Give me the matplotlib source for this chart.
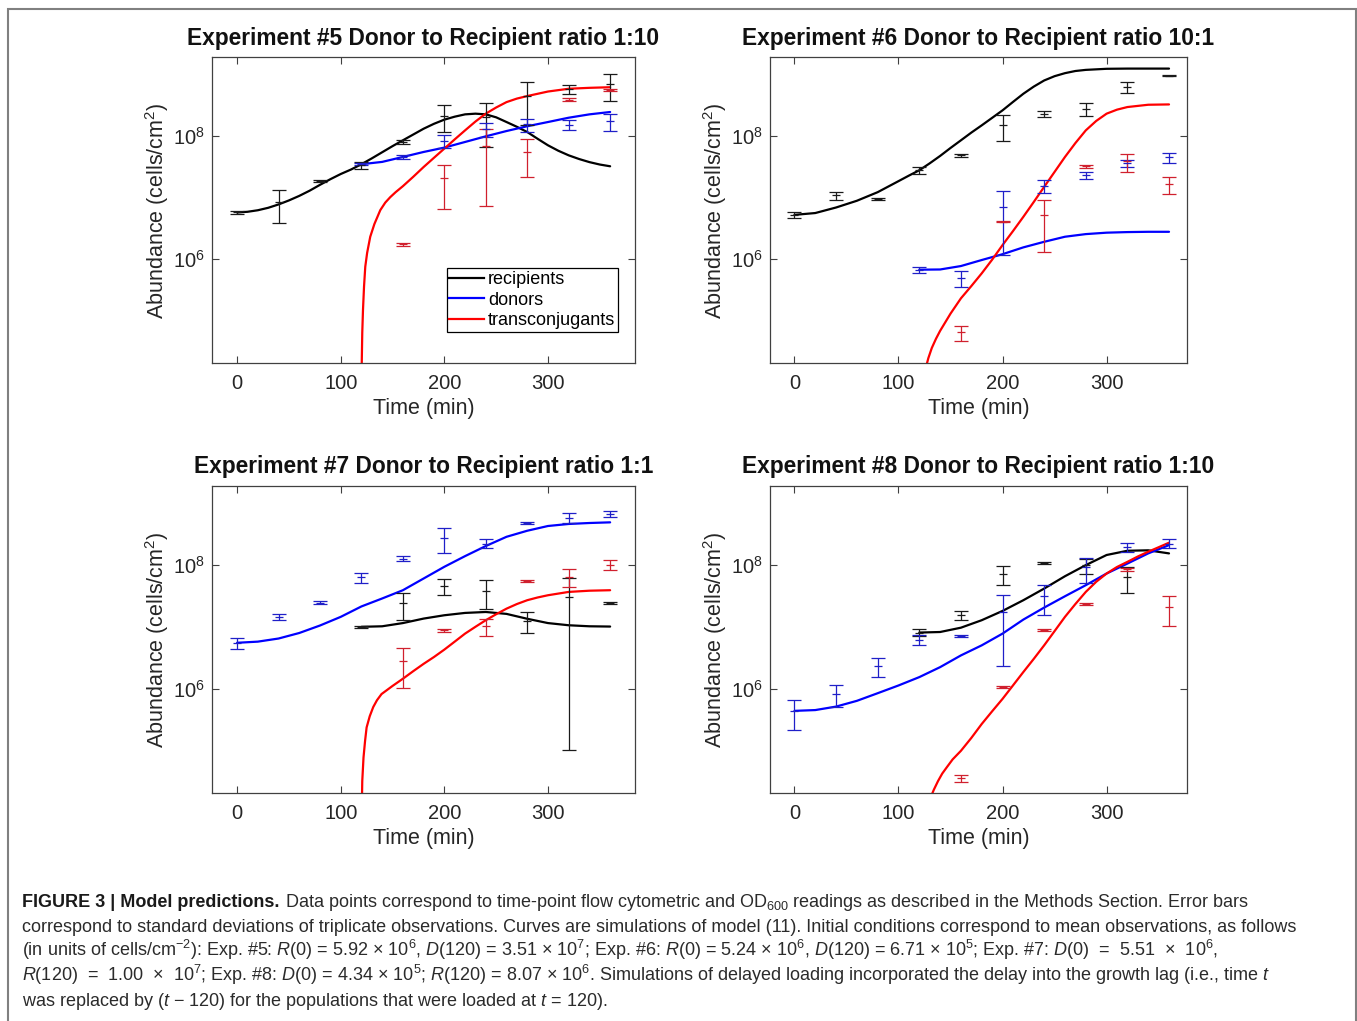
import numpy as np
import matplotlib
matplotlib.use("Agg")
import matplotlib.pyplot as plt
from matplotlib import font_manager
from matplotlib.patches import Rectangle
from matplotlib.lines import Line2D
from matplotlib.ticker import FixedLocator, FuncFormatter, NullLocator

# ---------------- data ----------------
t_all = [0, 40, 80, 120, 160, 200, 240, 280, 320, 360]
t_120 = [120, 160, 200, 240, 280, 320, 360]
t_160 = [160, 200, 240, 280, 320, 360]

# Experiment #5 (ratio 1:10)
e5_rec_mean = [5.74e6, 8.51e6, 1.88e7, 3.39e7, 8.09e7, 2.18e8, 2.10e8, 4.55e8, 5.91e8, 7.10e8]
e5_rec_sd = [2.9e5, 4.7e6, 7.0e5, 4.1e6, 5.2e6, 1.0e8, 1.42e8, 3.04e8, 1.0e8, 3.4e8]
e5_don_mean = [3.51e7, 4.61e7, 8.40e7, 1.32e8, 1.56e8, 1.55e8, 1.77e8]
e5_don_sd = [1.5e6, 3.0e6, 2.0e7, 3.5e7, 3.8e7, 2.7e7, 5.7e7]
e5_tra_mean = [1.75e6, 2.06e7, 6.95e7, 5.65e7, 3.98e8, 5.74e8]
e5_tra_sd = [1.0e5, 1.41e7, 6.23e7, 3.47e7, 2.0e7, 2.5e7]

e5_rec_ct = [0, 10, 20, 30, 40, 50, 60, 70, 80, 90, 100, 110, 120, 130, 140, 150, 160, 170, 180, 190,
             200, 210, 220, 230, 240, 250, 260, 270, 280, 290, 300, 310, 320, 330, 340, 350, 360]
e5_rec_cv = [5.75e6, 5.89e6, 6.24e6, 6.84e6, 7.76e6, 9.02e6, 1.07e7, 1.30e7, 1.62e7, 2.0e7, 2.43e7,
             2.88e7, 3.51e7, 4.37e7, 5.50e7, 6.92e7, 8.61e7, 1.07e8, 1.33e8, 1.60e8, 1.87e8, 2.09e8,
             2.28e8, 2.34e8, 2.28e8, 2.04e8, 1.71e8, 1.43e8, 1.175e8, 9.12e7, 7.14e7, 5.82e7, 4.90e7,
             4.27e7, 3.80e7, 3.47e7, 3.25e7]
e5_don_ct = [120, 140, 160, 180, 200, 220, 240, 260, 280, 300, 320, 340, 360]
e5_don_cv = [3.51e7, 3.83e7, 4.61e7, 5.56e7, 6.55e7, 8.09e7, 1.0e8, 1.22e8, 1.46e8, 1.71e8, 2.01e8, 2.28e8, 2.49e8]
e5_tra_ct = [120.0, 120.3, 120.8, 121.5, 122.5, 123.7, 125.5, 128.5, 132.5, 138.2, 143, 147.8, 153, 160,
             170, 180, 190, 200, 210, 220, 230, 240, 250, 260, 270, 280, 300, 320, 340, 360]
e5_tra_cv = [1e3, 2.0e4, 6.31e4, 1.48e5, 3.55e5, 7.5e5, 1.26e6, 2.31e6, 3.72e6, 6.27e6, 8.32e6, 1.02e7,
             1.23e7, 1.54e7, 2.19e7, 3.16e7, 4.47e7, 6.31e7, 8.91e7, 1.25e8, 1.74e8, 2.34e8, 2.95e8,
             3.61e8, 4.12e8, 4.53e8, 5.37e8, 5.96e8, 6.17e8, 6.31e8]

# Experiment #6 (ratio 10:1)
e6_rec_mean = [5.24e6, 1.09e7, 9.46e6, 2.79e7, 4.91e7, 1.545e8, 2.32e8, 2.82e8, 6.39e8, 9.77e8]
e6_rec_sd = [6.0e5, 1.6e6, 3.0e5, 3.8e6, 2.5e6, 7.05e7, 2.6e7, 7.0e7, 1.25e8, 3.0e7]
e6_don_mean = [6.71e5, 4.97e5, 7.03e6, 1.57e7, 2.34e7, 3.65e7, 4.52e7]
e6_don_sd = [7.0e4, 1.5e5, 5.87e6, 3.6e6, 2.9e6, 5.2e6, 8.4e6]
e6_tra_mean = [6.4e4, 4.05e6, 5.3e6, 3.25e7, 3.93e7, 1.67e7]
e6_tra_sd = [1.85e4, 1.0e5, 4.0e6, 2.0e6, 1.3e7, 5.3e6]

e6_rec_ct = [0, 20, 40, 60, 80, 100, 110, 120, 130, 140, 150, 160, 170, 180, 190, 200, 210, 220, 230,
             240, 250, 260, 270, 280, 300, 320, 360]
e6_rec_cv = [5.25e6, 5.62e6, 6.92e6, 8.91e6, 1.23e7, 1.86e7, 2.29e7, 2.80e7, 3.63e7, 4.79e7, 6.46e7,
             8.61e7, 1.15e8, 1.51e8, 2.0e8, 2.65e8, 3.63e8, 4.94e8, 6.46e8, 8.13e8, 9.55e8, 1.07e9,
             1.16e9, 1.21e9, 1.26e9, 1.27e9, 1.27e9]
e6_don_ct = [120, 140, 160, 180, 200, 220, 240, 260, 280, 300, 320, 340, 360]
e6_don_cv = [6.71e5, 6.76e5, 7.69e5, 9.64e5, 1.20e6, 1.55e6, 1.91e6, 2.31e6, 2.55e6, 2.69e6, 2.75e6, 2.78e6, 2.78e6]
e6_tra_ct = [125, 128.7, 132, 136, 140, 150, 160, 170, 180, 190, 200, 210, 220, 230, 240, 250, 260,
             270, 280, 290, 300, 310, 320, 340, 360]
e6_tra_cv = [1.41e4, 2.43e4, 3.55e4, 5.01e4, 6.76e4, 1.29e5, 2.29e5, 3.63e5, 5.85e5, 9.77e5, 1.69e6,
             2.85e6, 4.88e6, 8.51e6, 1.50e7, 2.63e7, 4.61e7, 7.76e7, 1.25e8, 1.78e8, 2.34e8, 2.72e8,
             3.0e8, 3.27e8, 3.31e8]

# Experiment #7 (ratio 1:1)
e7_don_mean = [5.51e6, 1.445e7, 2.47e7, 6.36e7, 1.28e8, 2.76e8, 2.24e8, 4.76e8, 5.84e8, 6.80e8]
e7_don_sd = [1.2e6, 1.5e6, 1.5e6, 1.14e7, 1.2e7, 1.18e8, 3.7e7, 2.0e7, 1.08e8, 8.4e7]
e7_rec_mean = [1.00e7, 2.43e7, 4.66e7, 3.84e7, 1.26e7, 3.05e7, 2.47e7]
e7_rec_sd = [3.0e5, 1.12e7, 1.41e7, 1.87e7, 4.8e6, 3.04e7, 1.0e6]
e7_tra_mean = [2.8e6, 8.77e6, 1.03e7, 5.5e7, 6.53e7, 1.02e8]
e7_tra_sd = [1.78e6, 5.0e5, 3.3e6, 1.5e6, 2.08e7, 1.9e7]

e7_don_ct = [0, 20, 40, 60, 80, 100, 120, 140, 160, 180, 200, 220, 240, 260, 280, 300, 320, 340, 360]
e7_don_cv = [5.51e6, 5.75e6, 6.46e6, 7.94e6, 1.05e7, 1.45e7, 2.14e7, 2.88e7, 3.92e7, 6.07e7,
             9.40e7, 1.40e8, 2.04e8, 2.88e8, 3.61e8, 4.31e8, 4.65e8, 4.82e8, 4.94e8]
e7_rec_ct = [120, 140, 160, 180, 200, 220, 240, 260, 280, 300, 320, 340, 360]
e7_rec_cv = [1.0e7, 1.02e7, 1.15e7, 1.36e7, 1.54e7, 1.68e7, 1.74e7, 1.62e7, 1.35e7, 1.15e7, 1.06e7, 1.02e7, 1.01e7]
e7_tra_ct = [120.0, 120.3, 120.8, 122, 123.5, 125, 128, 131.4, 135, 139.4, 150, 160, 170, 180, 190,
             200, 210, 220, 230, 240, 250, 260, 270, 280, 290, 300, 320, 340, 360]
e7_tra_cv = [1e3, 1.0e4, 3.16e4, 7.59e4, 1.41e5, 2.34e5, 3.55e5, 5.01e5, 6.46e5, 8.13e5, 1.10e6,
             1.44e6, 1.91e6, 2.51e6, 3.24e6, 4.27e6, 5.75e6, 7.76e6, 1.0e7, 1.28e7, 1.60e7, 1.97e7,
             2.34e7, 2.70e7, 2.99e7, 3.25e7, 3.68e7, 3.85e7, 3.92e7]

# Experiment #8 (ratio 1:10)
e8_don_mean = [4.34e5, 8.15e5, 2.34e6, 6.14e6, 7.02e6, 1.74e7, 3.15e7, 9.16e7, 1.96e8, 2.24e8]
e8_don_sd = [2.2e5, 3.05e5, 8.2e5, 1.14e6, 3.0e5, 1.51e7, 1.58e7, 4.0e7, 3.5e7, 3.7e7]
t_e8_rec = [120, 160, 200, 240, 280, 320]
e8_rec_mean = [8.07e6, 1.56e7, 7.25e7, 1.09e8, 1.0e8, 6.48e7]
e8_rec_sd = [1.0e6, 2.5e6, 2.4e7, 5.0e6, 2.7e7, 2.93e7]
e8_tra_mean = [3.49e4, 1.05e6, 8.77e6, 2.32e7, 8.51e7, 2.08e7]
e8_tra_sd = [4.9e3, 3.0e4, 3.0e5, 8.0e5, 5.0e6, 1.06e7]

e8_don_ct = [0, 20, 40, 60, 80, 100, 120, 140, 160, 180, 200, 220, 240, 260, 280, 300, 320, 340, 360]
e8_don_cv = [4.34e5, 4.47e5, 5.09e5, 6.31e5, 8.39e5, 1.12e6, 1.53e6, 2.22e6, 3.44e6, 5.01e6,
             7.76e6, 1.31e7, 2.05e7, 3.13e7, 4.73e7, 7.31e7, 1.06e8, 1.55e8, 2.11e8]
e8_rec_ct = [120, 140, 160, 180, 200, 220, 240, 260, 280, 300, 320, 340, 360]
e8_rec_cv = [8.07e6, 8.24e6, 9.68e6, 1.28e7, 1.81e7, 2.70e7, 4.17e7, 6.61e7, 1.0e8, 1.46e8, 1.71e8, 1.74e8, 1.55e8]
e8_tra_ct = [128, 131, 134, 138, 142, 146.3, 152, 160, 170, 180, 190, 200, 210, 220, 230, 240, 250,
             260, 270, 280, 290, 300, 310, 320, 330, 340, 350, 360]
e8_tra_cv = [1.26e4, 1.74e4, 2.29e4, 3.16e4, 4.17e4, 5.25e4, 7.08e4, 9.77e4, 1.58e5, 2.66e5, 4.27e5,
             6.79e5, 1.12e6, 1.85e6, 3.02e6, 5.01e6, 8.51e6, 1.45e7, 2.34e7, 3.68e7, 5.37e7, 7.31e7,
             9.33e7, 1.13e8, 1.38e8, 1.65e8, 1.95e8, 2.31e8]

titles = ["Experiment #5 Donor to Recipient ratio 1:10",
          "Experiment #6 Donor to Recipient ratio 10:1",
          "Experiment #7 Donor to Recipient ratio 1:1",
          "Experiment #8 Donor to Recipient ratio 1:10"]
legend_labels = ["recipients", "donors", "transconjugants"]
x_ticks = [0, 100, 200, 300]
y_ticks = [1e6, 1e8]

caption_bold = "FIGURE 3 | Model predictions."
caption_lines = [
    " Data points correspond to time-point flow cytometric and OD$_{600}$ readings as described in the Methods Section. Error bars",
    "correspond to standard deviations of triplicate observations. Curves are simulations of model (11). Initial conditions correspond to mean observations, as follows",
    "(in units of cells/cm$^{-2}$): Exp. #5: $R$(0) = 5.92 \u00d7 10$^{6}$, $D$(120) = 3.51 \u00d7 10$^{7}$; Exp. #6: $R$(0) = 5.24 \u00d7 10$^{6}$, $D$(120) = 6.71 \u00d7 10$^{5}$; Exp. #7: $D$(0)  =  5.51  \u00d7  10$^{6}$,",
    "$R$(120)  =  1.00  \u00d7  10$^{7}$; Exp. #8: $D$(0) = 4.34 \u00d7 10$^{5}$; $R$(120) = 8.07 \u00d7 10$^{6}$. Simulations of delayed loading incorporated the delay into the growth lag (i.e., time $t$",
    "was replaced by ($t$ \u2212 120) for the populations that were loaded at $t$ = 120).",
]

# ---------------- style ----------------
names = {f.name for f in font_manager.fontManager.ttflist}
SANS = "Liberation Sans" if "Liberation Sans" in names else "DejaVu Sans"
plt.rcParams["font.family"] = [SANS, "DejaVu Sans"]
plt.rcParams["mathtext.fontset"] = "custom"
plt.rcParams["mathtext.rm"] = SANS
plt.rcParams["mathtext.it"] = SANS + ":italic"
plt.rcParams["mathtext.bf"] = SANS + ":bold"

W, H = 1357, 1021
fig = plt.figure(figsize=(W / 100, H / 100), dpi=100)
fig.patch.set_facecolor("white")

C_REC, C_DON, C_TRA = "#000000", "#0000ff", "#ff0000"
E_REC, E_DON, E_TRA = "#1a1a1a", "#1f1fc8", "#d0202e"
YLIM = (2.0e4, 1.94e9)


def px_axes(l, t, r, b):
    return [l / W, 1 - b / H, (r - l) / W, (b - t) / H]


positions = [px_axes(211.7, 57.3, 635.0, 363.3),
             px_axes(770.0, 57.3, 1186.7, 363.3),
             px_axes(211.7, 485.7, 635.0, 793.3),
             px_axes(770.0, 485.7, 1186.7, 793.3)]
xlims = [(-24.5, 384.0), (-23.5, 377.0), (-24.5, 384.0), (-23.5, 377.0)]

panels = [
    dict(curves=[(e5_rec_ct, e5_rec_cv, C_REC), (e5_don_ct, e5_don_cv, C_DON), (e5_tra_ct, e5_tra_cv, C_TRA)],
         points=[(t_all, e5_rec_mean, e5_rec_sd, E_REC), (t_120, e5_don_mean, e5_don_sd, E_DON),
                 (t_160, e5_tra_mean, e5_tra_sd, E_TRA)]),
    dict(curves=[(e6_rec_ct, e6_rec_cv, C_REC), (e6_don_ct, e6_don_cv, C_DON), (e6_tra_ct, e6_tra_cv, C_TRA)],
         points=[(t_all, e6_rec_mean, e6_rec_sd, E_REC), (t_120, e6_don_mean, e6_don_sd, E_DON),
                 (t_160, e6_tra_mean, e6_tra_sd, E_TRA)]),
    dict(curves=[(e7_rec_ct, e7_rec_cv, C_REC), (e7_don_ct, e7_don_cv, C_DON), (e7_tra_ct, e7_tra_cv, C_TRA)],
         points=[(t_120, e7_rec_mean, e7_rec_sd, E_REC), (t_all, e7_don_mean, e7_don_sd, E_DON),
                 (t_160, e7_tra_mean, e7_tra_sd, E_TRA)]),
    dict(curves=[(e8_rec_ct, e8_rec_cv, C_REC), (e8_don_ct, e8_don_cv, C_DON), (e8_tra_ct, e8_tra_cv, C_TRA)],
         points=[(t_e8_rec, e8_rec_mean, e8_rec_sd, E_REC), (t_all, e8_don_mean, e8_don_sd, E_DON),
                 (t_160, e8_tra_mean, e8_tra_sd, E_TRA)]),
]

for i, (pos, p) in enumerate(zip(positions, panels)):
    ax = fig.add_axes(pos)
    ax.set_yscale("log")
    for t, v, c in p["curves"]:
        ax.plot(t, v, color=c, lw=1.6, solid_joinstyle="round", solid_capstyle="round", zorder=2)
    for t, m, s, c in p["points"]:
        ax.errorbar(t, m, yerr=s, fmt="_", color=c, ecolor=c, elinewidth=0.9,
                    capsize=5.0, capthick=0.9, markersize=5.5, mew=0.9, zorder=3)
    ax.set_xlim(*xlims[i])
    ax.set_ylim(*YLIM)
    ax.xaxis.set_major_locator(FixedLocator(x_ticks))
    ax.yaxis.set_major_locator(FixedLocator(y_ticks))
    ax.yaxis.set_minor_locator(NullLocator())
    ax.yaxis.set_major_formatter(FuncFormatter(lambda v, _: r"$10^{%d}$" % int(round(np.log10(v)))))
    ax.tick_params(direction="in", top=True, right=True, length=5, width=0.8,
                   color="#404040", labelcolor="#262626", labelsize=14.5)
    ax.tick_params(axis="x", pad=7.5)
    ax.tick_params(axis="y", pad=5)
    for sp in ax.spines.values():
        sp.set_color("#404040")
        sp.set_linewidth(0.9)
    ax.set_title(titles[i], fontsize=16.4, fontweight="bold", pad=9, color="#111111")
    ax.set_xlabel("Time (min)", fontsize=15.5, labelpad=3.5, color="#262626")
    ax.set_ylabel("Abundance (cells/cm$^{2}$)", fontsize=15.5, labelpad=1.5, color="#262626")
    if i == 0:
        handles = [Line2D([], [], color=c, lw=1.6) for c in (C_REC, C_DON, C_TRA)]
        leg = ax.legend(handles, legend_labels, loc="lower right", bbox_to_anchor=(0.96, 0.102),
                        frameon=True, fancybox=False, edgecolor="black", framealpha=1,
                        fontsize=13, handlelength=1.9, handletextpad=0.25, labelspacing=0.2,
                        borderpad=0.15, borderaxespad=0)
        leg.get_frame().set_linewidth(0.9)

# outer frame
fig.add_artist(Rectangle((7.5 / W, -0.02), (1355.5 - 7.5) / W, 1 - 9 / H + 0.02,
                         transform=fig.transFigure, fill=False, edgecolor="#808080",
                         linewidth=1.5, clip_on=False))

# caption
cap_fs = 13.0
cap_color = "#2b2b2b"
baselines = [907, 931.7, 956.4, 981.1, 1005.8]
x0 = 22 / W
tb = fig.text(x0, 1 - baselines[0] / H, caption_bold, fontsize=cap_fs, fontweight="bold",
              color="#1a1a1a", va="baseline", ha="left")
fig.canvas.draw()
bb = tb.get_window_extent(renderer=fig.canvas.get_renderer())
fig.text(bb.x1 / W, 1 - baselines[0] / H, caption_lines[0], fontsize=cap_fs, color=cap_color,
         va="baseline", ha="left")
for k in range(1, 5):
    fig.text(x0, 1 - baselines[k] / H, caption_lines[k], fontsize=cap_fs, color=cap_color,
             va="baseline", ha="left")

fig.savefig("out.png", dpi=100, facecolor="white")
